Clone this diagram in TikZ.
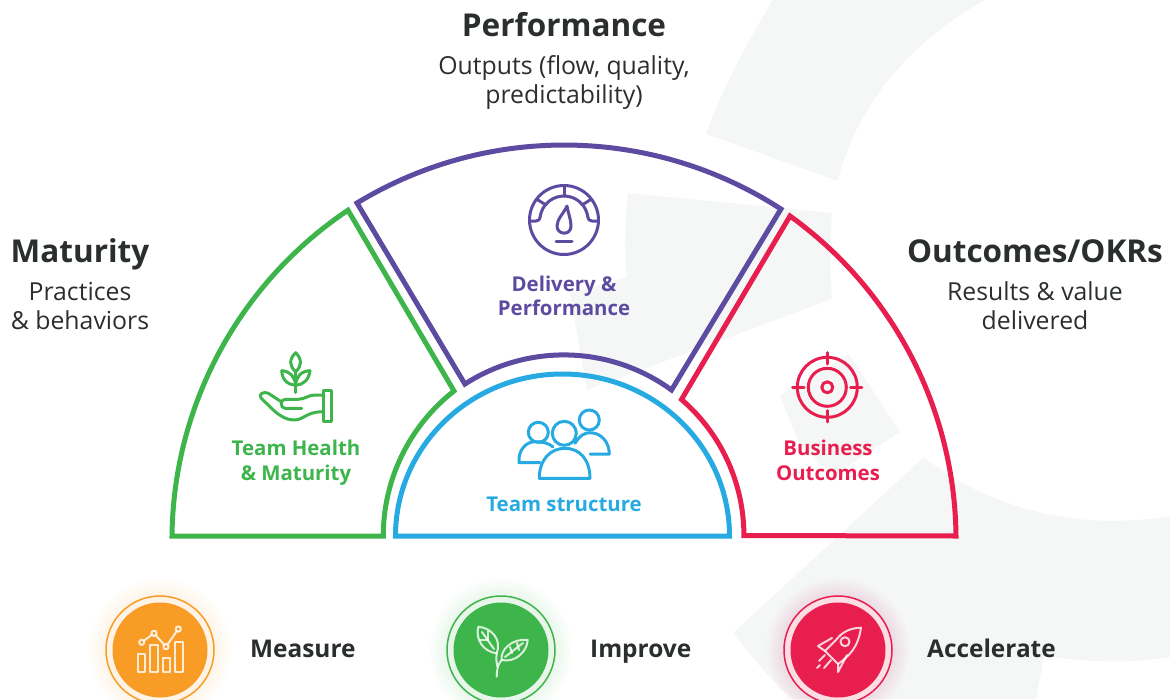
\documentclass[tikz,border=0pt]{standalone}
\usepackage{fontspec}
\setmainfont{Open Sans}
\usetikzlibrary{positioning}
\definecolor{wmark}{HTML}{F5F7F6}
\definecolor{ink}{HTML}{2B2E2F}
\definecolor{hgreen}{HTML}{3DB54A}
\definecolor{hpurple}{HTML}{5C4BA0}
\definecolor{hred}{HTML}{E81E4F}
\definecolor{hblue}{HTML}{27AAE1}
\definecolor{horange}{HTML}{F89C25}
\tikzstyle{head} = [font=\fontsize{31.5}{36}\selectfont\bfseries, text=ink, anchor=base, inner sep=0pt]
\tikzstyle{sub} = [font=\fontsize{24.8}{29}\selectfont, text=ink, align=center, inner sep=0pt]
\tikzstyle{seglabel} = [font=\fontsize{20.4}{24.5}\selectfont\bfseries, align=center, inner sep=0pt]
\tikzstyle{steplabel} = [font=\fontsize{24.4}{30}\selectfont\bfseries, text=ink, anchor=base west, inner sep=0pt]
\tikzstyle{segment} = [line width=5pt, miter limit=20]
\tikzstyle{glyph} = [line width=3pt, line cap=round, line join=round]
\tikzstyle{badgeicon} = [white, draw opacity=0.8, line width=2pt, line join=round, line cap=round]
\begin{document}
\begin{tikzpicture}[x=1pt,y=1pt]
\useasboundingbox (0,-699) rectangle (1170,0);

\fill[wmark] (773,0) .. controls (745,-45) and (722,-90) .. (706,-134) -- (838,-181) .. controls (855,-110) and (905,-45) .. (985,0) -- cycle;
\fill[wmark] (628,-193) -- (832,-213) .. controls (830,-240) and (830,-275) .. (832,-299) -- (587,-390) -- (570,-293) -- (627,-277) .. controls (624,-250) and (625,-220) .. (628,-193) -- cycle;
\fill[wmark] (780,-396) -- (849,-354) -- (900,-432) -- (833,-476) -- (800,-445) -- cycle;
\fill[wmark] (924,-457) .. controls (970,-495) and (1060,-535) .. (1170,-516) -- (1170,-657) .. controls (1130,-664) and (1085,-662) .. (1044,-656) -- (1036,-699) -- (793,-699) .. controls (770,-680) and (750,-655) .. (733,-633) -- cycle;

\draw[segment, hgreen] (172,-536) arc[start angle=179.4, end angle=123.85, radius=397.3] -- (454,-391) arc[start angle=128, end angle=180, radius=184] -- cycle;
\draw[segment, hpurple] (357,-203) arc[start angle=121.27, end angle=57.1, radius=399.1] -- (671.5,-390) arc[start angle=53.9, end angle=122.8, radius=182.7] -- cycle;
\draw[segment, hred] (956,-536) arc[start angle=0.57, end angle=54.27, radius=399.1] -- (681.5,-399.5) arc[start angle=49.3, end angle=0, radius=179.4] -- cycle;
\draw[segment, hblue] (395.5,-536) arc[start angle=180, end angle=0, x radius=167, y radius=162] -- cycle;

\node (perf) [head] at (564,-36) {Performance};
\node (perfsub) [sub] at (564,-82.5) {Outputs (flow, quality,\\predictability)};
\node (mat) [head] at (80,-262) {Maturity};
\node (matsub) [sub] at (80,-306.5) {Practices\\\& behaviors};
\node (okr) [head] at (1035,-262) {Outcomes/OKRs};
\node (okrsub) [sub] at (1035,-305.5) {Results \& value\\delivered};

\node (delivery) [seglabel, text=hpurple] at (564,-296) {Delivery \&\\Performance};
\node (health) [seglabel, text=hgreen] at (296,-462.5) {Team Health\\\& Maturity};
\node (business) [seglabel, text=hred] at (828,-460.5) {Business\\Outcomes};
\node (team) [seglabel, text=hblue] at (564,-504) {Team structure};

\begin{scope}[glyph, hpurple]
\draw (564,-220) circle (34.5);
\draw (530,-221) -- (536,-221) .. controls (541,-221) and (540,-215) .. (541,-213) arc[start angle=163, end angle=17, radius=24] .. controls (588,-215) and (587,-221) .. (592,-221) -- (598,-221);
\draw (564,-186) -- (564,-196);
\draw (538,-200) -- (546,-205);
\draw (590,-200) -- (582,-205);
\draw (567,-206) .. controls (564,-213) and (557,-219) .. (557,-226) .. controls (557,-235) and (571,-236) .. (571,-226) .. controls (571,-219) and (568,-213) .. (567,-206) -- cycle;
\draw (556,-241) -- (572,-241);
\end{scope}

\begin{scope}[glyph, hgreen]
\draw (295.7,-352.7) .. controls (289,-359) and (289,-366) .. (295.7,-371.7) .. controls (302,-366) and (302,-359) .. (295.7,-352.7) -- cycle;
\draw (281.7,-370.7) .. controls (282,-379) and (287,-385) .. (295.7,-385) .. controls (295,-377) and (290,-371) .. (281.7,-370.7) -- cycle;
\draw (310,-370.7) .. controls (309,-379) and (304,-385) .. (295.7,-385) .. controls (296,-377) and (301,-371) .. (310,-370.7) -- cycle;
\draw (295.7,-371.7) -- (295.7,-392.7);
\draw (323.3,-390) rectangle (331.7,-421.7);
\draw (323,-395) -- (315,-395) .. controls (308,-395) and (305,-399.3) .. (298,-399.3) -- (285,-399.3) .. controls (280,-399.3) and (280,-408.3) .. (285,-408.3) -- (301.7,-408.3);
\draw (281.7,-402) -- (268.3,-393.3) .. controls (264,-391) and (258,-394) .. (261,-398) -- (273.3,-410) .. controls (281,-417) and (288,-420) .. (294,-420) .. controls (304,-420) and (306,-411.7) .. (323,-411.7);
\end{scope}

\begin{scope}[glyph, hblue]
\draw (538.3,-432.3) circle (10);
\draw (564.3,-433.3) circle (12);
\draw (589.3,-420) circle (10);
\draw (540,-462.7) -- (519,-462.7) .. controls (518,-450) and (526,-441.7) .. (535,-441.7) .. controls (542,-441.7) and (549,-443) .. (553,-447);
\draw (539.3,-478.3) -- (590,-478.3) .. controls (590,-460) and (580,-448.3) .. (565,-448.3) .. controls (550,-448.3) and (539.3,-460) .. (539.3,-478.3) -- cycle;
\draw (575,-443.3) .. controls (580,-435) and (585,-432.7) .. (590,-432.7) .. controls (601,-432.7) and (609.3,-442) .. (609.3,-454) -- (590,-454);
\end{scope}

\begin{scope}[glyph, hred]
\draw (827.3,-387.3) circle (30);
\draw (827.3,-387.3) circle (19);
\draw (827.3,-387.3) circle (5.5);
\draw (827.3,-352.7) -- (827.3,-364);
\draw (827.3,-410.6) -- (827.3,-421.9);
\draw (792.7,-387.3) -- (804,-387.3);
\draw (850.6,-387.3) -- (861.9,-387.3);
\end{scope}

\foreach \r in {72,70,...,56} {
\fill[horange, opacity=0.012] (160,-650) circle (\r);
\fill[hgreen, opacity=0.012] (501,-650) circle (\r);
\fill[hred, opacity=0.012] (838,-650) circle (\r);
}
\fill[white] (160,-650) circle (54);
\fill[white] (501,-650) circle (54);
\fill[white] (838,-650) circle (54);
\fill[horange!12] (160,-650) circle (54);
\fill[hgreen!12] (501,-650) circle (54);
\fill[hred!15] (838,-650) circle (54);
\node (measurering) [circle, draw=horange, line width=1.5pt, minimum size=108pt, inner sep=0pt] at (160,-650) {};
\node (improvering) [circle, draw=hgreen, line width=1.5pt, minimum size=108pt, inner sep=0pt] at (501,-650) {};
\node (acceleratering) [circle, draw=hred, line width=1.5pt, minimum size=108pt, inner sep=0pt] at (838,-650) {};
\node (measuredisc) [circle, fill=horange, minimum size=95pt, inner sep=0pt] at (measurering) {};
\node (improvedisc) [circle, fill=hgreen, minimum size=95pt, inner sep=0pt] at (improvering) {};
\node (acceleratedisc) [circle, fill=hred, minimum size=95pt, inner sep=0pt] at (acceleratering) {};

\begin{scope}[badgeicon]
\draw (137.7,-654.3) rectangle (145,-672.3);
\draw (150,-645) rectangle (158.3,-672.3);
\draw (163.3,-658.3) rectangle (170,-672.3);
\draw (175,-641.7) rectangle (183.3,-672.3);
\draw (141.7,-642.3) circle (2.6);
\draw (154,-633.3) circle (2.6);
\draw (166,-646.7) circle (2.6);
\draw (178.3,-629) circle (2.6);
\draw (143.8,-640.8) -- (151.9,-634.8);
\draw (155.8,-635.3) -- (164.2,-644.7);
\draw (167.5,-644.6) -- (176.8,-631.1);

\draw (496.7,-653.3) .. controls (484,-652) and (475,-640) .. (478.3,-626.7) .. controls (492,-628) and (502,-640) .. (496.7,-653.3) -- cycle;
\draw (501.7,-660) .. controls (500,-650) and (512,-638) .. (527.7,-640) .. controls (527,-652) and (515,-663) .. (501.7,-660) -- cycle;
\draw (496.7,-676.7) .. controls (497,-668) and (498,-664) .. (501.7,-660);
\draw (497.5,-667) .. controls (496,-660) and (496,-657) .. (496.7,-653.3);
\draw (482,-632) -- (494,-649);
\draw (505,-657) -- (523,-643);
\draw (480,-640) -- (487,-640);
\draw (488,-631) -- (488,-640);
\draw (510,-647) -- (512,-653);
\draw (517,-643) -- (519,-650);

\draw (861,-627.7) .. controls (850,-628) and (842,-632) .. (836,-640) -- (825,-651) -- (838,-664) .. controls (849,-656) and (858,-648) .. (861,-627.7) -- cycle;
\draw (845,-641.7) circle (4.5);
\draw (832,-638) -- (818,-646) -- (825,-651);
\draw (847,-655) -- (838,-672) -- (838,-664);
\draw (819,-661) -- (825,-655);
\draw (824,-668) -- (831,-660);
\draw (817,-668) -- (820,-665);
\end{scope}

\node (measure) [steplabel] at (250,-657) {Measure};
\node (improve) [steplabel] at (590,-657) {Improve};
\node (accelerate) [steplabel] at (927,-657) {Accelerate};

\end{tikzpicture}
\end{document}
